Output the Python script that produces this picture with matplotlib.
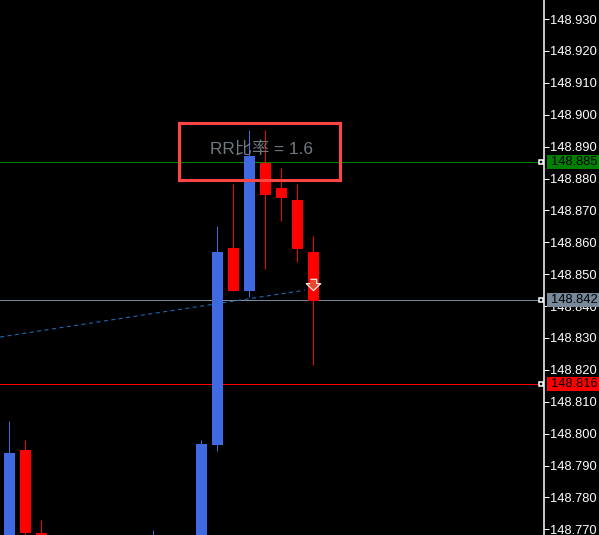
import matplotlib
matplotlib.use("Agg")
import matplotlib.pyplot as plt
from matplotlib.patches import Rectangle

# Candles: index on the chart, body and wick prices
candle_idx = [0, 1, 2, 9, 12, 13, 14, 15, 16, 17, 18, 19]
body_top = [148.7939, 148.7949, 148.7689, 148.7600, 148.7968, 148.8570, 148.8582, 148.8871, 148.8849, 148.8770, 148.8733, 148.8570]
body_bot = [148.7600, 148.7689, 148.7600, 148.7550, 148.7600, 148.7965, 148.8447, 148.8447, 148.8748, 148.8739, 148.8579, 148.8416]
wick_high = [148.8040, 148.7980, 148.7730, 148.7698, 148.7980, 148.8651, 148.8783, 148.8952, 148.8952, 148.8833, 148.8783, 148.8620]
wick_low = [148.7550, 148.7680, 148.7550, 148.7500, 148.7550, 148.7946, 148.8447, 148.8429, 148.8516, 148.8667, 148.8538, 148.8215]
is_up = [True, False, False, True, True, True, False, True, False, False, False, False]

# Horizontal price levels
level_prices = [148.8851, 148.8418, 148.8155]
level_labels = ["148.885", "148.842", "148.816"]
level_colors = ["#008000", "#778899", "#ff0000"]

# Dashed trend line and sell arrow
trend_x = [-0.59, 18.47]
trend_y = [148.8303, 148.8450]
arrow_x = [18.98]
arrow_y = [148.8469]

ticks = [148.77, 148.78, 148.79, 148.80, 148.81, 148.82, 148.83, 148.84, 148.85,
         148.86, 148.87, 148.88, 148.89, 148.90, 148.91, 148.92, 148.93]
rr_text = "RR比率 = 1.6"

FONT = ["Liberation Sans", "Noto Sans CJK SC", "DejaVu Sans"]
plt.rcParams["font.family"] = FONT

W, H = 599, 535
fig = plt.figure(figsize=(W / 100, H / 100), dpi=100, facecolor="black")
ax = fig.add_axes([0, 0, 544 / W, 1], facecolor="black")
ax.set_xlim(-9.5 / 16, (544 - 9.5) / 16)
ax.set_ylim(148.76824, 148.93596)
PX = 0.72  # one pixel in points

for s in ["top", "left", "bottom"]:
    ax.spines[s].set_visible(False)
ax.spines["right"].set_color("white")
ax.spines["right"].set_linewidth(1.1)
ax.set_xticks([])
ax.yaxis.tick_right()
ax.set_yticks(ticks)
ax.set_yticklabels([f"{t:.3f}" for t in ticks])
ax.tick_params(axis="y", colors="white", length=3.6, width=PX, pad=0.6, labelsize=9.25)

for lv, c in zip(level_prices, level_colors):
    ax.plot([ax.get_xlim()[0], 33.2], [lv, lv], color=c, lw=PX, zorder=2)
    ax.plot([33.2], [lv], marker="s", ms=3.0, mfc="black", mec="white", mew=1.1, zorder=6, clip_on=False)

for i, top, bot, hi, lo, up in zip(candle_idx, body_top, body_bot, wick_high, wick_low, is_up):
    c = "#4169e1" if up else "#ff0000"
    ax.vlines(i - 0.04, lo, hi, color=c, lw=PX, zorder=3)
    ax.bar(i, top - bot, bottom=bot, width=11 / 16, color=c, lw=0, zorder=4)

ax.plot(trend_x, trend_y, color="#1e73c8", lw=PX, ls=(0, (4, 3.5)), zorder=5)
ax.plot(arrow_x, arrow_y, marker=[(-2.2, 3.6), (2.2, 3.6), (2.2, 0.6), (5, 0.6), (0, -4.2), (-5, 0.6), (-2.2, 0.6)],
        ms=10.5, mfc="#e8482c", mec="white", mew=0.8, zorder=7, ls="none")

ytr = ax.get_yaxis_transform()
hgt = 14 / 3190
for lv, lab, c in zip(level_prices, level_labels, level_colors):
    ax.add_patch(Rectangle((547 / 544, lv - hgt / 2), 52 / 544, hgt, transform=ytr,
                           fc=c, ec="none", clip_on=False, zorder=8))
    ax.text(551.5 / 544, lv, lab, transform=ytr, color="black", fontsize=9.25,
            va="center", ha="left", clip_on=False, zorder=9)

fig.add_artist(Rectangle((178.8 / W, 1 - 179.5 / H), 160.8 / W, 57 / H, transform=fig.transFigure,
                         fc="none", ec="#ff4444", lw=2.2, zorder=10))
fig.text(261 / W, 1 - 150 / H, rr_text, color="#6f7a80", fontsize=12.4, ha="center", va="center", zorder=11)

fig.savefig("out.png", dpi=100, facecolor="black")
